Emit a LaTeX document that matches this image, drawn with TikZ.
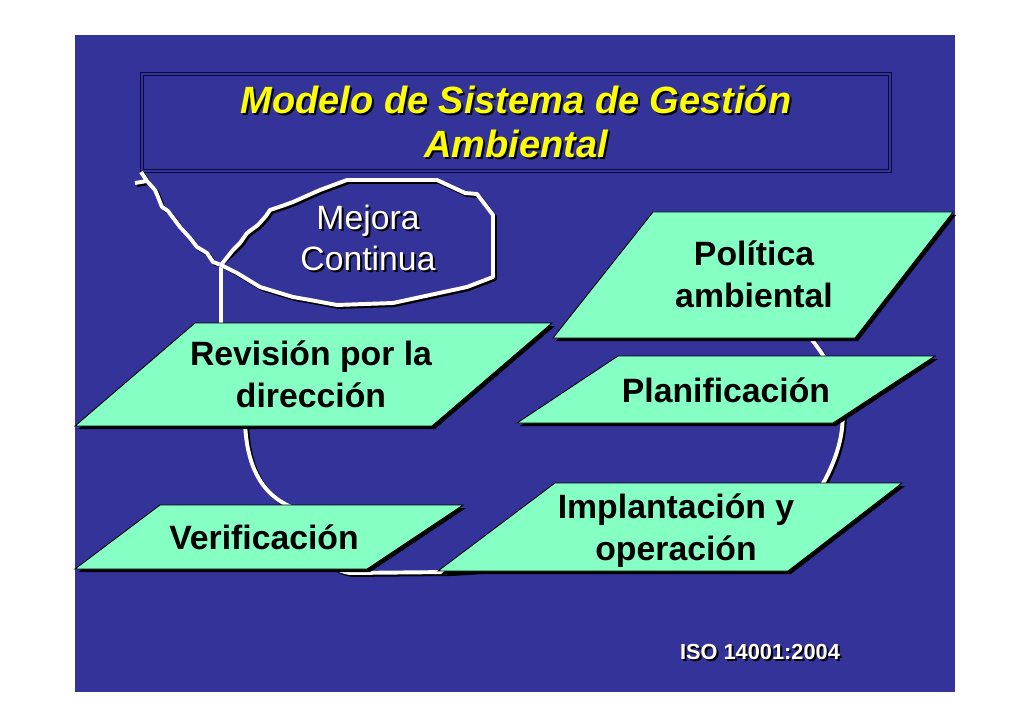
\documentclass[tikz,border=0pt]{standalone}
\usepackage{fontspec}
\setmainfont{Liberation Sans}
\usetikzlibrary{calc}
\definecolor{slideblue}{RGB}{51,51,153}
\definecolor{mint}{RGB}{133,255,196}
\definecolor{titleyellow}{RGB}{255,255,0}
\definecolor{frameline}{RGB}{10,10,60}
\def\parabox(#1)(#2)(#3)(#4){\fill[black, shift={(3,3)}] (#1) -- (#2) -- (#3) -- (#4) -- cycle;
	\draw[fill=mint, line width=0.6pt] (#1) -- (#2) -- (#3) -- (#4) -- cycle;}

\begin{document}
\begin{tikzpicture}[x=0.025cm, y=-0.025cm,
	boxtext/.style={font=\fontsize{24pt}{29.7pt}\selectfont\bfseries, align=center, anchor=base, inner sep=0pt},
	titletext/.style={font=\fontsize{27pt}{32pt}\selectfont\bfseries\itshape, align=center, anchor=base, inner sep=0pt},
	cloudtext/.style={font=\fontsize{24pt}{29pt}\selectfont, align=center, anchor=base, inner sep=0pt},
	isotext/.style={font=\fontsize{15.5pt}{18pt}\selectfont\bfseries, anchor=base, inner sep=0pt},
	wline/.style={white, line width=2.8pt, line join=round},
	wshadow/.style={black, line width=2.8pt, line join=round, shift={(2,2)}}]
	%%%%% START %%%%%
	\fill[white] (0,0) rectangle (1030,728);
	\fill[slideblue] (75,35) rectangle (955,692);
	
	\draw[frameline, line width=0.6pt] (140,72) rectangle (891,172);
	\draw[frameline, line width=0.6pt] (143,75) rectangle (888,169);
	
	% base anchor sits on the last line
	\node[titletext, black] (titleshade) at (518,160) {Modelo de Sistema de Gestión\\Ambiental};
	\node[titletext, titleyellow] (title) at (516,158) {Modelo de Sistema de Gestión\\Ambiental};
	
	% ring behind the boxes
	\draw[wshadow] (245,420) .. controls (246,470) and (265,500) .. (300,510) .. controls (315,545) and (325,570) .. (350,573) -- (450,572) .. controls (650,560) and (800,530) .. (825,480) .. controls (838,455) and (845,430) .. (842,405) .. controls (838,375) and (825,355) .. (800,325);
	\draw[wline] (245,420) .. controls (246,470) and (265,500) .. (300,510) .. controls (315,545) and (325,570) .. (350,573) -- (450,572) .. controls (650,560) and (800,530) .. (825,480) .. controls (838,455) and (845,430) .. (842,405) .. controls (838,375) and (825,355) .. (800,325);
	
	% mejora continua
	\coordinate (mc) at (221,265);
	\coordinate (rt) at (221,325);
	\draw[wshadow] (mc) -- (rt);
	\draw[wline] (mc) -- (rt);
	\draw[wshadow] (141,172) -- (147,181) -- (135,183) (147,181) -- (155,190) -- (158,197) -- (162,207) -- (168,211) -- (180,227) -- (190,238) -- (197,247) -- (207,253) -- (213,262) -- (mc);
	\draw[wline] (141,172) -- (147,181) -- (135,183) (147,181) -- (155,190) -- (158,197) -- (162,207) -- (168,211) -- (180,227) -- (190,238) -- (197,247) -- (207,253) -- (213,262) -- (mc);
	\draw[wshadow] (mc) -- (233,250) -- (240,243) -- (247,233) -- (258,225) -- (266,216) -- (270,210) -- (282,206) -- (293,202) -- (320,190) -- (347,180) -- (437,180) -- (465,193) -- (477,194) -- (493,215) -- (493,277) -- (467,287) -- (430,295) -- (393,303) -- (337,305) -- (310,300) -- (293,297) -- (260,287) -- (237,273) -- cycle;
	\draw[wline] (mc) -- (233,250) -- (240,243) -- (247,233) -- (258,225) -- (266,216) -- (270,210) -- (282,206) -- (293,202) -- (320,190) -- (347,180) -- (437,180) -- (465,193) -- (477,194) -- (493,215) -- (493,277) -- (467,287) -- (430,295) -- (393,303) -- (337,305) -- (310,300) -- (293,297) -- (260,287) -- (237,273) -- cycle;
	\node[cloudtext, black] (mejshade) at (370,272) {Mejora\\Continua};
	\node[cloudtext, white] (mej) at (368,270) {Mejora\\Continua};
	
	% boxes
	\parabox(553,338)(653,212)(953,212)(855,338)
	\node[boxtext] (pol) at (754,307) {Política\\ambiental};
	
	\parabox(517,423)(618,356)(935,356)(833,423)
	\node[boxtext] (plan) at (726,402) {Planificación};
	
	\parabox(75,426)(195,323)(552,323)(432,426)
	\node[boxtext] (rev) at (311,407) {Revisión por la\\dirección};
	
	\parabox(75,569)(160,505)(463,505)(367,569)
	\node[boxtext] (ver) at (264,549) {Verificación};
	
	\parabox(438,571)(555,483)(902,483)(788,571)
	\node[boxtext] (impl) at (676,560) {Implantación y\\operación};
	
	\node[isotext, black] (isoshade) at (762,661) {ISO 14001:2004};
	\node[isotext, white] (iso) at (760,659) {ISO 14001:2004};
	%%%%% END %%%%%
\end{tikzpicture}
\end{document}
